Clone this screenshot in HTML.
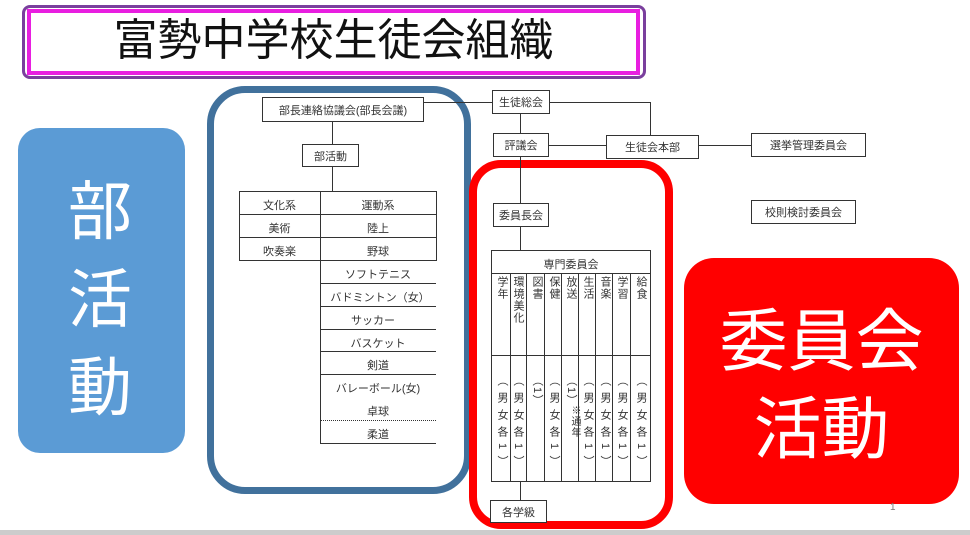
<!DOCTYPE html>
<html><head><meta charset="utf-8"><style>
*{margin:0;padding:0;box-sizing:border-box}
body{width:970px;height:535px;background:#fff;position:relative;overflow:hidden;font-family:"Liberation Sans","Noto Sans CJK JP",sans-serif;color:#333}
.a{position:absolute}
.b{position:absolute;border:1.3px solid #333;background:#fff;font-size:11px;text-align:center;display:flex;align-items:center;justify-content:center;white-space:nowrap}
.h{position:absolute;border-top:1.3px solid #333}
.v{position:absolute;border-left:1.3px solid #333}
.c{position:absolute;font-size:11px;text-align:center;white-space:nowrap}
.vt{position:absolute;writing-mode:vertical-rl;font-size:11px;line-height:17px;letter-spacing:1px}
.lo{letter-spacing:6px}
</style></head><body>
<div class="a" style="left:22px;top:5px;width:624px;height:74px;border:3px solid #7a3f9d;border-radius:8px"></div>
<div class="a" style="left:27px;top:9px;width:613px;height:66px;border:4px solid #e81ee0;background:#fff"></div>
<div class="a" style="left:27px;top:10px;width:613px;text-align:center;font-size:44px;color:#111;line-height:62px">富勢中学校生徒会組織</div>

<div class="a" style="left:18px;top:128px;width:167px;height:325px;background:#5b9bd5;border-radius:22px"></div>
<div class="a" style="left:58px;top:168px;width:84px;color:#fff;font-size:64px;line-height:88px;text-align:center">部<br>活<br>動</div>

<div class="a" style="left:207px;top:86px;width:264px;height:408px;border:7px solid #41719c;border-radius:38px"></div>
<div class="a" style="left:469px;top:160px;width:204px;height:369px;border:8px solid #f00;border-radius:32px"></div>
<div class="a" style="left:684px;top:258px;width:275px;height:246px;background:#f00;border-radius:30px"></div>
<div class="a" style="left:684px;top:298px;width:275px;color:#fff;font-size:68px;line-height:88px;text-align:center">委員会<br>活動</div>

<div class="h" style="left:423px;top:102px;width:70px"></div>
<div class="v" style="left:332px;top:121px;height:23px"></div>
<div class="v" style="left:332px;top:166px;height:25px"></div>
<div class="b" style="left:262px;top:97px;width:162px;height:25px">部長連絡協議会(部長会議)</div>
<div class="b" style="left:302px;top:144px;width:57px;height:23px">部活動</div>

<div class="a" style="left:239px;top:191px;width:198px;height:70px;border:1.3px solid #333"></div>
<div class="h" style="left:239px;top:214px;width:198px"></div>
<div class="h" style="left:239px;top:237px;width:198px"></div>
<div class="v" style="left:320px;top:191px;height:252px"></div>
<div class="v" style="left:436px;top:191px;height:69px"></div>
<div class="c" style="left:239px;top:197px;width:81px">文化系</div>
<div class="c" style="left:320px;top:197px;width:116px">運動系</div>
<div class="c" style="left:239px;top:220px;width:81px">美術</div>
<div class="c" style="left:320px;top:220px;width:116px">陸上</div>
<div class="c" style="left:239px;top:243px;width:81px">吹奏楽</div>
<div class="c" style="left:320px;top:243px;width:116px">野球</div>
<div class="h" style="left:320px;top:283px;width:116px"></div>
<div class="h" style="left:320px;top:306px;width:116px"></div>
<div class="h" style="left:320px;top:329px;width:116px"></div>
<div class="h" style="left:320px;top:351px;width:116px"></div>
<div class="h" style="left:320px;top:374px;width:116px"></div>
<div class="a" style="left:320px;top:420px;width:116px;border-top:1.3px dotted #333"></div>
<div class="h" style="left:320px;top:443px;width:116px"></div>
<div class="c" style="left:320px;top:266px;width:116px">ソフトテニス</div>
<div class="c" style="left:320px;top:289px;width:120px">バドミントン（女）</div>
<div class="c" style="left:320px;top:312px;width:106px">サッカー</div>
<div class="c" style="left:320px;top:335px;width:116px">バスケット</div>
<div class="c" style="left:320px;top:357px;width:116px">剣道</div>
<div class="c" style="left:320px;top:380px;width:116px">バレーボール(女)</div>
<div class="c" style="left:320px;top:403px;width:116px">卓球</div>
<div class="c" style="left:320px;top:426px;width:116px">柔道</div>

<div class="v" style="left:520px;top:113px;height:137px"></div>
<div class="h" style="left:550px;top:102px;width:100px"></div>
<div class="v" style="left:650px;top:102px;height:33px"></div>
<div class="h" style="left:549px;top:145px;width:58px"></div>
<div class="h" style="left:699px;top:145px;width:52px"></div>
<div class="v" style="left:520px;top:481px;height:19px"></div>
<div class="b" style="left:492px;top:90px;width:58px;height:24px">生徒総会</div>
<div class="b" style="left:493px;top:133px;width:56px;height:24px">評議会</div>
<div class="b" style="left:606px;top:135px;width:93px;height:24px">生徒会本部</div>
<div class="b" style="left:751px;top:133px;width:115px;height:24px">選挙管理委員会</div>
<div class="b" style="left:751px;top:200px;width:105px;height:24px">校則検討委員会</div>
<div class="b" style="left:493px;top:203px;width:56px;height:24px">委員長会</div>
<div class="b" style="left:490px;top:500px;width:57px;height:23px">各学級</div>

<div class="a" style="left:491px;top:250px;width:160px;height:232px;border:1.3px solid #333;background:#fff"></div>
<div class="c" style="left:491px;top:256px;width:160px">専門委員会</div>
<div class="h" style="left:491px;top:273px;width:160px"></div>
<div class="h" style="left:491px;top:355px;width:160px"></div>
<div class="v" style="left:510px;top:273px;height:208px"></div>
<div class="v" style="left:526px;top:273px;height:208px"></div>
<div class="v" style="left:544px;top:273px;height:208px"></div>
<div class="v" style="left:561px;top:273px;height:208px"></div>
<div class="v" style="left:578px;top:273px;height:208px"></div>
<div class="v" style="left:595px;top:273px;height:208px"></div>
<div class="v" style="left:612px;top:273px;height:208px"></div>
<div class="v" style="left:630px;top:273px;height:208px"></div>
<div class="vt" style="left:493px;top:276px">学年</div>
<div class="vt" style="left:511px;top:276px;line-height:14px">環境美化</div>
<div class="vt" style="left:528px;top:276px">図書</div>
<div class="vt" style="left:545px;top:276px">保健</div>
<div class="vt" style="left:562px;top:276px">放送</div>
<div class="vt" style="left:579px;top:276px">生活</div>
<div class="vt" style="left:596px;top:276px">音楽</div>
<div class="vt" style="left:613px;top:276px">学習</div>
<div class="vt" style="left:632px;top:276px">給食</div>
<div class="vt lo" style="left:493px;top:375px">（男女各1）</div>
<div class="vt lo" style="left:511px;top:375px;line-height:14px">（男女各1）</div>
<div class="vt" style="left:528px;top:375px">（1）</div>
<div class="vt lo" style="left:545px;top:375px">（男女各1）</div>
<div class="vt" style="left:562px;top:375px">（1）</div>
<div class="vt" style="left:568px;top:405px;font-size:10px;line-height:12px">※通年</div>
<div class="vt lo" style="left:579px;top:375px">（男女各1）</div>
<div class="vt lo" style="left:596px;top:375px">（男女各1）</div>
<div class="vt lo" style="left:613px;top:375px">（男女各1）</div>
<div class="vt lo" style="left:632px;top:375px">（男女各1）</div>

<div class="a" style="left:890px;top:502px;font-size:10px;color:#777">1</div>
<div class="a" style="left:0;top:530px;width:970px;height:5px;background:#ccc"></div>
</body></html>
